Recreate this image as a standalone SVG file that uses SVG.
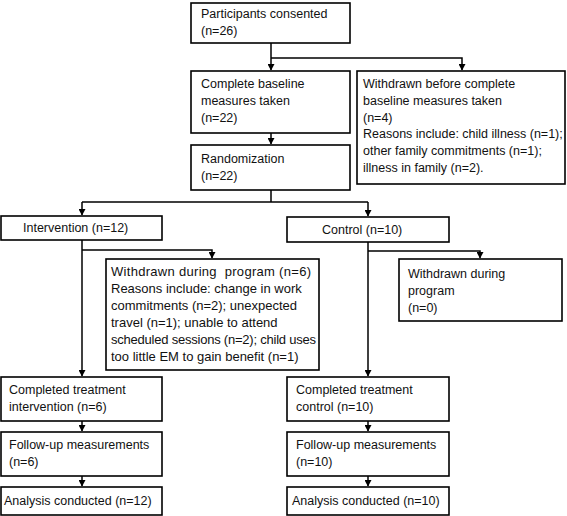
<svg xmlns="http://www.w3.org/2000/svg" width="567" height="516" viewBox="0 0 567 516">
<defs>
<marker id="ah" markerUnits="userSpaceOnUse" markerWidth="7" markerHeight="7" refX="6" refY="3.5" orient="auto">
<path d="M0,0 L6.5,3.5 L0,7 z" fill="#000"/>
</marker>
<style>
.box{fill:#fff;stroke:#000;stroke-width:1.6}
.t{font-family:"Liberation Sans",Arial,Helvetica,sans-serif;font-size:12.5px;fill:#111}
.w{font-size:13px}
.c{fill:none;stroke:#000;stroke-width:1.5}
.a{marker-end:url(#ah)}
</style>
</defs>
<rect width="567" height="516" fill="#fff"/>
<g id="connectors">
<path class="c a" d="M271,43 V70"/>
<path class="c a" d="M271,58 H462 V70"/>
<path class="c a" d="M271,133 V144"/>
<path class="c" d="M271,190 V202 M82,202 H368"/>
<path class="c a" d="M82,202 V215"/>
<path class="c a" d="M368,202 V216"/>
<path class="c a" d="M82,240 V376"/>
<path class="c a" d="M82,250 H212 V258"/>
<path class="c a" d="M368,242 V376"/>
<path class="c a" d="M368,251 H480 V258"/>
<path class="c a" d="M82,421 V431"/>
<path class="c a" d="M82,476 V486"/>
<path class="c a" d="M368,421 V431"/>
<path class="c a" d="M368,476 V486"/>
</g>
<g id="consented">
<rect class="box" x="191" y="3" width="159" height="40"/>
<text class="t" x="201" y="18">Participants consented</text>
<text class="t" x="201" y="35">(n=26)</text>
</g>
<g id="baseline">
<rect class="box" x="191" y="71" width="159" height="62"/>
<text class="t" x="201" y="88">Complete baseline</text>
<text class="t" x="201" y="105">measures taken</text>
<text class="t" x="201" y="122">(n=22)</text>
</g>
<g id="withdrawn-before">
<rect class="box" x="357" y="71" width="208" height="113"/>
<text class="t" x="363" y="88">Withdrawn before complete</text>
<text class="t" x="363" y="105">baseline measures taken</text>
<text class="t" x="363" y="122">(n=4)</text>
<text class="t" x="363" y="138">Reasons include: child illness (n=1);</text>
<text class="t" x="363" y="155">other family commitments (n=1);</text>
<text class="t" x="363" y="172">illness in family (n=2).</text>
</g>
<g id="randomization">
<rect class="box" x="191" y="145" width="159" height="45"/>
<text class="t" x="201" y="163">Randomization</text>
<text class="t" x="201" y="180">(n=22)</text>
</g>
<g id="intervention">
<rect class="box" x="1" y="216" width="161" height="24"/>
<text class="t" x="23" y="232">Intervention (n=12)</text>
</g>
<g id="control">
<rect class="box" x="287" y="217" width="162" height="25"/>
<text class="t" x="322" y="234">Control (n=10)</text>
</g>
<g id="withdrawn-intervention">
<rect class="box" x="106" y="259" width="213" height="111"/>
<text class="t w" x="111" y="276" xml:space="preserve" textLength="200" lengthAdjust="spacing">Withdrawn during  program (n=6)</text>
<text class="t w" x="111" y="293">Reasons include: change in work</text>
<text class="t w" x="111" y="310">commitments (n=2); unexpected</text>
<text class="t w" x="111" y="327">travel (n=1); unable to attend</text>
<text class="t w" x="111" y="344" textLength="205" lengthAdjust="spacing">scheduled sessions (n=2); child uses</text>
<text class="t w" x="111" y="361">too little EM to gain benefit (n=1)</text>
</g>
<g id="withdrawn-control">
<rect class="box" x="399" y="259" width="163" height="62"/>
<text class="t" x="408" y="278">Withdrawn during</text>
<text class="t" x="408" y="295">program</text>
<text class="t" x="408" y="312">(n=0)</text>
</g>
<g id="completed-intervention">
<rect class="box" x="1" y="377" width="161" height="44"/>
<text class="t" x="9" y="394">Completed treatment</text>
<text class="t" x="9" y="411">intervention (n=6)</text>
</g>
<g id="followup-intervention">
<rect class="box" x="1" y="432" width="161" height="44"/>
<text class="t" x="9" y="449">Follow-up measurements</text>
<text class="t" x="9" y="466">(n=6)</text>
</g>
<g id="analysis-intervention">
<rect class="box" x="1" y="487" width="161" height="28"/>
<text class="t" x="4" y="505">Analysis conducted (n=12)</text>
</g>
<g id="completed-control">
<rect class="box" x="287" y="377" width="162" height="44"/>
<text class="t" x="296" y="394">Completed treatment</text>
<text class="t" x="296" y="411">control (n=10)</text>
</g>
<g id="followup-control">
<rect class="box" x="287" y="432" width="162" height="44"/>
<text class="t" x="296" y="449">Follow-up measurements</text>
<text class="t" x="296" y="466">(n=10)</text>
</g>
<g id="analysis-control">
<rect class="box" x="287" y="487" width="162" height="28"/>
<text class="t" x="292" y="505">Analysis conducted (n=10)</text>
</g>
</svg>
